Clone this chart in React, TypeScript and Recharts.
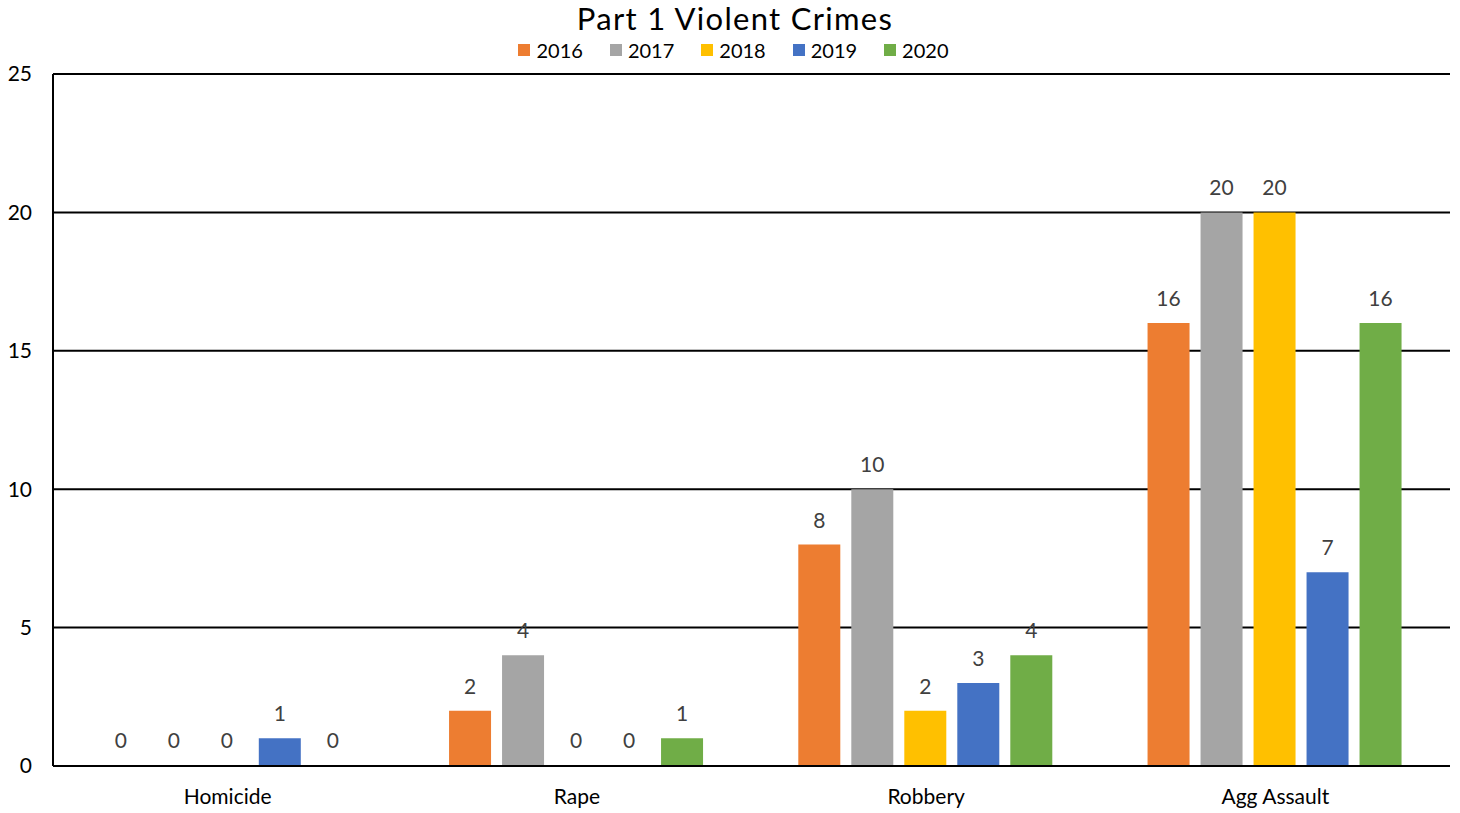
import { Bar, BarChart, CartesianGrid, LabelList, Rectangle, XAxis, YAxis } from 'recharts';

const categories = ['Homicide', 'Rape', 'Robbery', 'Agg Assault'];
const years = ['2016', '2017', '2018', '2019', '2020'];
const v2016 = [0, 2, 8, 16];
const v2017 = [0, 4, 10, 20];
const v2018 = [0, 0, 2, 20];
const v2019 = [1, 0, 3, 7];
const v2020 = [0, 1, 4, 16];
const yTicks = [0, 5, 10, 15, 20, 25];

const colors = ['#ED7D31', '#A5A5A5', '#FFC000', '#4472C4', '#70AD47'];
const series = [v2016, v2017, v2018, v2019, v2020];
const font = 'Lato, "Open Sans", sans-serif';

const data = categories.map((name, i) => {
  const row: Record<string, string | number> = { name };
  years.forEach((y, k) => {
    row[y] = series[k][i];
  });
  return row;
});

// zero values get a 1px placeholder so their label still shows, but no rect is drawn
const BarShape = (props: any) => {
  if (!props.value) return <g />;
  return <Rectangle {...props} />;
};

export default function App() {
  return (
    <div style={{ position: 'absolute', left: 0, top: 0, width: 1460, height: 813, background: '#fff', fontFamily: font }}>
      <div style={{ position: 'absolute', top: 0, width: 1470, textAlign: 'center', fontSize: 31, letterSpacing: 1.3, lineHeight: '37px', color: '#000' }}>
        Part 1 Violent Crimes
      </div>
      <div style={{ position: 'absolute', top: 38, left: 0, width: 1494, display: 'flex', justifyContent: 'center', fontSize: 20, lineHeight: '24px', color: '#000' }}>
        {years.map((y, k) => (
          <span key={y} style={{ display: 'flex', alignItems: 'center', marginRight: 27 }}>
            <span style={{ width: 12, height: 12, background: colors[k], marginRight: 6, display: 'inline-block' }} />
            {y}
          </span>
        ))}
      </div>
      <BarChart
        width={1460}
        height={813}
        data={data}
        margin={{ top: 74, right: 10, bottom: 0, left: 0 }}
        barCategoryGap="13.4%"
        barGap={11}
        style={{ position: 'absolute', left: 0, top: 0 }}
      >
        <CartesianGrid vertical={false} stroke="#000" strokeWidth={2} />
        <XAxis
          dataKey="name"
          height={47}
          tickLine={false}
          axisLine={{ stroke: '#000', strokeWidth: 2 }}
          tickMargin={17}
          tick={{ fill: '#000', fontSize: 21, fontFamily: font }}
        />
        <XAxis xAxisId="top" orientation="top" dataKey="name" height={0} tick={false} tickLine={false} axisLine={{ stroke: '#000', strokeWidth: 2 }} />
        <YAxis
          width={53}
          domain={[0, 25]}
          ticks={yTicks}
          tickLine={false}
          axisLine={{ stroke: '#000', strokeWidth: 2 }}
          tickMargin={15}
          tick={{ fill: '#000', fontSize: 21, fontFamily: font }}
        />
        <YAxis yAxisId="right" orientation="right" width={0} tick={false} tickLine={false} axisLine={{ stroke: '#000', strokeWidth: 2 }} />
        {years.map((y, k) => (
          <Bar key={y} dataKey={y} fill={colors[k]} minPointSize={1} shape={BarShape} isAnimationActive={false}>
            <LabelList dataKey={y} position="top" offset={17} fill="#404040" fontSize={21} fontFamily={font} />
          </Bar>
        ))}
      </BarChart>
    </div>
  );
}
